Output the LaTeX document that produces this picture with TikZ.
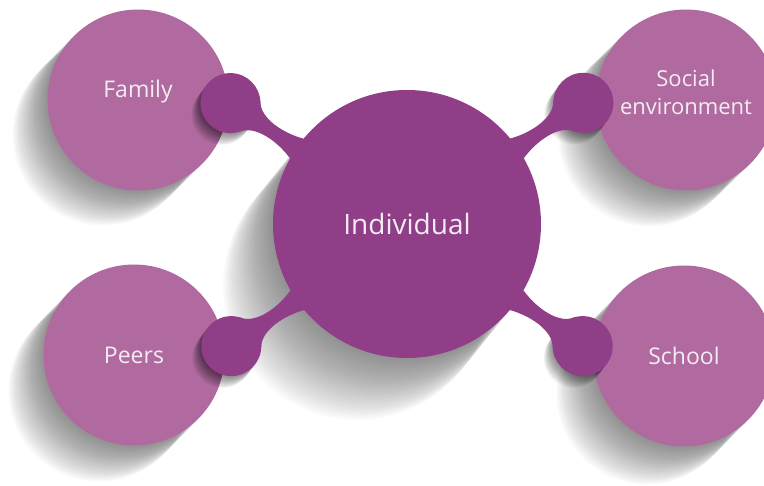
\documentclass[tikz,border=0pt]{standalone}
\usepackage{fontspec}
\setmainfont{Open Sans}
\usetikzlibrary{calc}

\definecolor{ctxpurple}{HTML}{B06AA0}
\definecolor{corepurple}{HTML}{913E88}
\definecolor{labelwhite}{HTML}{F4ECF3}

\tikzset{
  context/.style={circle, fill=ctxpurple, minimum size=181pt, inner sep=0pt,
    text=labelwhite, font=\fontsize{23}{28}\selectfont, align=center},
  labeltext/.style={text=labelwhite, font=\fontsize{22}{28}\selectfont, align=center, inner sep=0pt},
  core/.style={circle, fill=corepurple, minimum size=268pt, inner sep=0pt,
    text=labelwhite, font=\fontsize{28}{32}\selectfont},
  knob/.style={circle, fill=corepurple, minimum size=60pt, inner sep=0pt},
  shade/.style={fill=black, opacity=0.02},
}

% trail of offset circles under a disc
\newcommand{\dropshadow}[4]{%
  \foreach \k in {1,...,28}
    \fill[shade] ($(#1)+({\k*(#3)/28},{\k*(#4)/28})$) circle[radius=#2];
}
% tapered stem from the core towards a knob
\newcommand{\stem}[1]{%
  \fill[corepurple, shift={(indc)}, rotate=#1]
    (133.5,12) .. controls (153,5) and (181,4) .. (190.4,18.5)
    -- (190.4,-18.5) .. controls (181,-4) and (153,-5) .. (133.5,-12) -- cycle;
}

\begin{document}
\begin{tikzpicture}[x=1pt, y=-1pt]
  \useasboundingbox (0,0) rectangle (764,486);
  \clip (0,0) rectangle (764,486);

  % centres
  \coordinate (famc) at (138,100);
  \coordinate (socc) at (686,100);
  \coordinate (peec) at (134,355);
  \coordinate (schc) at (684,356);
  \coordinate (indc) at (407,224);
  \coordinate (famk) at ($(indc)+(145.6:214pt)$);
  \coordinate (sock) at ($(indc)+(34.5:214pt)$);
  \coordinate (peek) at ($(indc)+(214.8:214pt)$);
  \coordinate (schk) at ($(indc)+(325.2:214pt)$);

  % outer circles
  \dropshadow{famc}{90.5pt}{-35}{35}
  \dropshadow{socc}{90.5pt}{-37}{36}
  \dropshadow{peec}{90.5pt}{-35}{36}
  \dropshadow{schc}{90.5pt}{-37}{38}
  \node[context] (family) at (famc) {};
  \node[labeltext, font=\fontsize{23}{28}\selectfont] (famtext) at ([yshift=8pt]famc) {Family};
  \node[context] (social) at (socc) {};
  \node[labeltext] (soctext) at ([yshift=8pt]socc) {Social\\environment};
  \node[context] (peers) at (peec) {Peers};
  \node[context] (school) at (schc) {School};

  % core and its arms
  \dropshadow{indc}{134pt}{-50}{62}
  \dropshadow{famk}{30pt}{-9}{12}
  \dropshadow{sock}{30pt}{-9}{12}
  \dropshadow{peek}{30pt}{-9}{12}
  \dropshadow{schk}{30pt}{-9}{12}
  \stem{145.6}
  \stem{34.5}
  \stem{214.8}
  \stem{325.2}
  \node[knob] (famknob) at (famk) {};
  \node[knob] (socknob) at (sock) {};
  \node[knob] (peeknob) at (peek) {};
  \node[knob] (schknob) at (schk) {};
  \node[core] (individual) at (indc) {Individual};
\end{tikzpicture}
\end{document}
